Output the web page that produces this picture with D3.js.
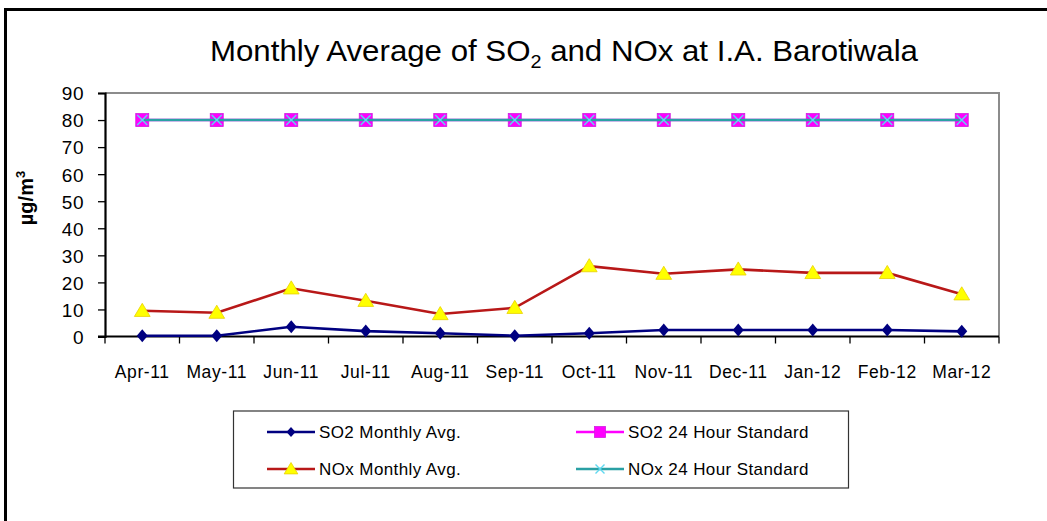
<!DOCTYPE html>
<html lang="en">
<head>
    <meta charset="UTF-8">
    <title>Monthly Average of SO2 and NOx at I.A. Barotiwala</title>
    <script src="https://d3js.org/d3.v7.min.js"></script>
    <style>
        body { margin: 0; background: #fff; }
        svg { display: block; font-family: "Liberation Sans", Arial, sans-serif; }
        .tick-label { font-size: 19px; fill: #000; letter-spacing: 0.5px; }
        .month-label { font-size: 17.5px; fill: #000; letter-spacing: 0.6px; }
        .legend-text { font-size: 17px; fill: #000; letter-spacing: 0.4px; }
    </style>
</head>
<body>
<svg width="1047" height="521"></svg>
<script>
    const months = ["Apr-11", "May-11", "Jun-11", "Jul-11", "Aug-11", "Sep-11",
                    "Oct-11", "Nov-11", "Dec-11", "Jan-12", "Feb-12", "Mar-12"];
    const so2Avg = [0.3, 0.3, 3.6, 2.0, 1.2, 0.3, 1.2, 2.4, 2.4, 2.4, 2.4, 1.9];
    const noxAvg = [9.5, 8.8, 17.8, 13.2, 8.3, 10.6, 26.0, 23.2, 24.8, 23.5, 23.5, 15.6];
    const so2Std = [80, 80, 80, 80, 80, 80, 80, 80, 80, 80, 80, 80];
    const noxStd = [80, 80, 80, 80, 80, 80, 80, 80, 80, 80, 80, 80];
    const yTicks = [0, 10, 20, 30, 40, 50, 60, 70, 80, 90];

    const svg = d3.select("svg");

    // outer frame (left and top edges visible in the picture)
    svg.append("line").attr("x1", 5.5).attr("x2", 5.5).attr("y1", 8).attr("y2", 521)
        .attr("stroke", "#000").attr("stroke-width", 3);
    svg.append("line").attr("x1", 4).attr("x2", 1047).attr("y1", 9.5).attr("y2", 9.5)
        .attr("stroke", "#000").attr("stroke-width", 3);

    const plot = {left: 105, right: 999, top: 93, bottom: 336.5};

    const x = d3.scaleBand().domain(months).range([plot.left, plot.right]);
    const y = d3.scaleLinear().domain([0, 90]).range([plot.bottom, plot.top]);
    const cx = d => x(d) + x.bandwidth() / 2;

    // title
    const title = svg.append("text")
        .attr("x", 564).attr("y", 61)
        .attr("text-anchor", "middle")
        .attr("font-size", 30)
        .attr("textLength", 708)
        .attr("lengthAdjust", "spacingAndGlyphs");
    title.append("tspan").text("Monthly Average of SO");
    title.append("tspan").attr("font-size", 19).attr("dy", 7).text("2");
    title.append("tspan").attr("dy", -7).text(" and NOx at I.A. Barotiwala");

    // plot area border (top/right gray)
    svg.append("path")
        .attr("d", `M${plot.left},${plot.top}H${plot.right}V${plot.bottom}`)
        .attr("fill", "none").attr("stroke", "#8c8c8c").attr("stroke-width", 2);

    // y axis
    const yAxis = svg.append("g").attr("transform", `translate(${plot.left},0)`)
        .call(d3.axisLeft(y).tickValues(yTicks).tickSize(7).tickPadding(14));
    yAxis.select(".domain").attr("stroke-width", 2.2).attr("stroke", "#000");
    yAxis.selectAll(".tick line").attr("stroke-width", 1.3);
    yAxis.selectAll(".tick text").attr("class", "tick-label").attr("font-size", null)
        .attr("font-family", null).attr("dy", "0.36em");

    // x axis with ticks between categories
    const xAxisG = svg.append("g").attr("transform", `translate(0,${plot.bottom})`);
    xAxisG.append("line").attr("x1", plot.left - 7).attr("x2", plot.right)
        .attr("stroke", "#000").attr("stroke-width", 2.2);
    const bounds = months.map(m => x(m)).concat([plot.right]);
    xAxisG.selectAll(".xt").data(bounds).enter().append("line")
        .attr("x1", d => d).attr("x2", d => d).attr("y1", 0).attr("y2", 7)
        .attr("stroke", "#000").attr("stroke-width", 1.3);
    xAxisG.selectAll(".month-label").data(months).enter().append("text")
        .attr("class", "month-label")
        .attr("x", d => cx(d)).attr("y", 41)
        .attr("text-anchor", "middle")
        .text(d => d);

    // y label
    const yl = svg.append("text")
        .attr("transform", "translate(33,198) rotate(-90)")
        .attr("text-anchor", "middle")
        .attr("font-size", 20).attr("font-weight", "bold");
    yl.append("tspan").text("µg/m");
    yl.append("tspan").attr("font-size", 13).attr("dy", -8).text("3");

    const line = d3.line().x((d, i) => cx(months[i])).y(d => y(d));

    const series = [
        {name: "SO2 Monthly Avg.", data: so2Avg, color: "#000080", marker: "diamond"},
        {name: "SO2 24 Hour Standard", data: so2Std, color: "#ff00ff", marker: "square"},
        {name: "NOx Monthly Avg.", data: noxAvg, color: "#b81818", marker: "triangle"},
        {name: "NOx 24 Hour Standard", data: noxStd, color: "#2aa0a4", marker: "star"}
    ];

    function drawMarker(g, type, px, py, small) {
        if (type === "diamond") {
            const h = small ? 5 : 6.5, w = small ? 4.5 : 5.5;
            g.append("path").attr("d", `M${px},${py - h}L${px + w},${py}L${px},${py + h}L${px - w},${py}Z`)
                .attr("fill", "#000080");
        } else if (type === "square") {
            const h = small ? 5.5 : 6.5;
            g.append("rect").attr("x", px - h).attr("y", py - h).attr("width", 2 * h).attr("height", 2 * h)
                .attr("fill", "#ff00ff").attr("stroke", "#d020e0").attr("stroke-width", 0.8);
        } else if (type === "triangle") {
            const h = small ? 6.5 : 7.5;
            g.append("path").attr("d", `M${px},${py - h}L${px + h * 1.05},${py + h * 0.75}L${px - h * 1.05},${py + h * 0.75}Z`)
                .attr("fill", "#ffff00").attr("stroke", "#e8d000").attr("stroke-width", 0.8);
        } else if (type === "star") {
            const h = small ? 4.5 : 5;
            g.append("path").attr("d", `M${px - h},${py - h}L${px + h},${py + h}M${px + h},${py - h}L${px - h},${py + h}`)
                .attr("stroke", "#5ed8f0").attr("stroke-width", 1.4).attr("fill", "none");
        }
    }

    // each series: line then its markers, in Excel's series order
    series.forEach(s => {
        svg.append("path").datum(s.data)
            .attr("d", line)
            .attr("fill", "none")
            .attr("stroke", s.color)
            .attr("stroke-width", 2.6);
        const g = svg.append("g");
        s.data.forEach((v, i) => drawMarker(g, s.marker, cx(months[i]), y(v), false));
    });

    // legend
    const lg = svg.append("g");
    lg.append("rect").attr("x", 233.5).attr("y", 411).attr("width", 615).attr("height", 77)
        .attr("fill", "#fff").attr("stroke", "#333").attr("stroke-width", 1.2);
    const legendPos = [
        {s: series[0], lx: 267, ly: 432},
        {s: series[1], lx: 576, ly: 432},
        {s: series[2], lx: 267, ly: 469},
        {s: series[3], lx: 576, ly: 469}
    ];
    legendPos.forEach(p => {
        lg.append("line").attr("x1", p.lx).attr("x2", p.lx + 48).attr("y1", p.ly).attr("y2", p.ly)
            .attr("stroke", p.s.color).attr("stroke-width", 2.6);
        drawMarker(lg, p.s.marker, p.lx + 24, p.ly, true);
        lg.append("text").attr("class", "legend-text")
            .attr("x", p.lx + 52).attr("y", p.ly + 6).text(p.s.name);
    });
</script>
</body>
</html>
